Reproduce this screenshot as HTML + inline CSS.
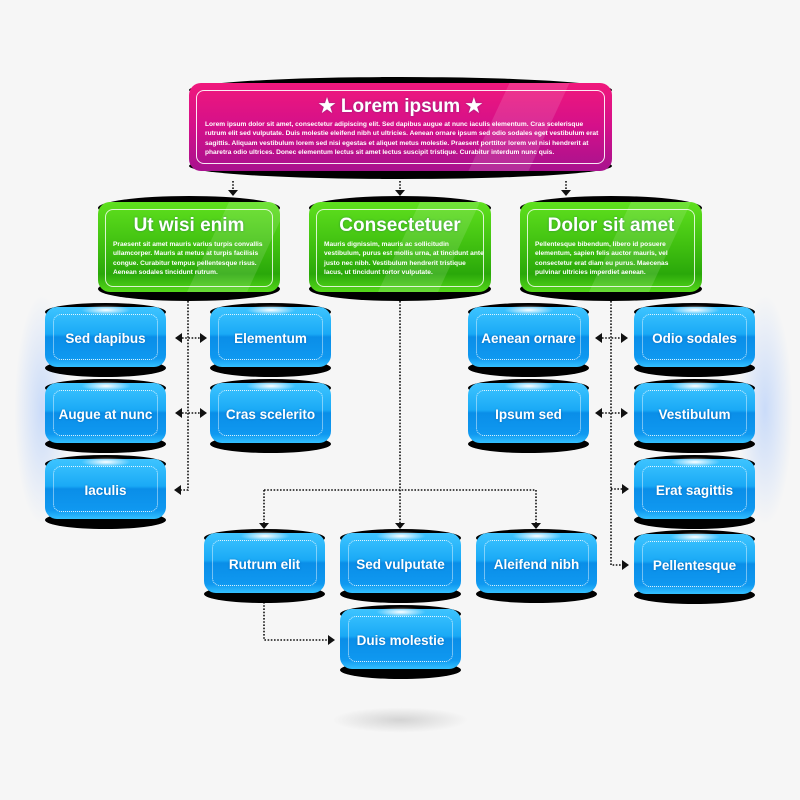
<!DOCTYPE html>
<html><head><meta charset="utf-8"><style>
body{margin:0;width:800px;height:800px;background:#f6f6f6;position:relative;overflow:hidden;font-family:"Liberation Sans",sans-serif}
.n{position:absolute}
.cap{position:absolute;left:0;right:0;background:#000;border-radius:50%}
.body{position:absolute;left:0;right:0;border-radius:12px;overflow:hidden}
.blue .body{background:linear-gradient(#3ec4ff 0%,#1aaaf6 45%,#0a8ee8 50%,#0f98f0 85%,#33c0ff 100%)}
.in{position:absolute;border:1px dotted rgba(255,255,255,.85);border-radius:8px}
.lbl{position:absolute;left:0;right:0;text-align:center;color:#fff;font-weight:bold;text-shadow:0 0 2px rgba(0,60,120,.4)}
.glow{position:absolute;left:50%;width:50px;height:10px;margin-left:-25px;background:radial-gradient(#fff,rgba(255,255,255,0) 70%)}
.green .body{background:linear-gradient(#5fe01e 0%,#3fbf10 50%,#2aa80a 80%,#55d81a 100%)}
.pink .body{background:linear-gradient(#f0187c 0%,#d4108a 50%,#a8128e 100%)}
.txt{position:absolute;color:#fff;font-size:6.6px;line-height:9.3px;font-weight:bold}
.shine{position:absolute;top:0;bottom:0;width:60px;background:rgba(255,255,255,.12);transform:skewX(-25deg)}
.halo{position:absolute;width:60px;height:250px;border-radius:50%;background:radial-gradient(ellipse at center,rgba(120,170,255,.35),rgba(246,246,246,0) 65%)}
</style></head><body>
<div class="halo" style="left:12px;top:285px"></div>
<div class="halo" style="left:735px;top:285px"></div>
<div class="n" style="left:320px;top:705px;width:160px;height:30px;background:radial-gradient(ellipse at center,rgba(170,170,170,.45),rgba(246,246,246,0) 60%)"></div>
<svg class="n" style="left:0;top:0" width="800" height="800">
<g stroke="#111" stroke-width="1.6" stroke-dasharray="1.6,1.6" fill="none">
<path d="M233 181V190M400 181V190M566 181V190"/>
<path d="M188 301V490H181"/>
<path d="M182 338H200M182 413H200"/>
<path d="M400 301V523M264 490H536M264 490V523M536 490V523"/>
<path d="M264 602V640H328"/>
<path d="M611 301V565H622M611 489H622M602 338H620M602 413H620"/>
</g>
<g fill="#111">
<path d="M228 190h10l-5 6zM395 190h10l-5 6zM561 190h10l-5 6z"/>
<path d="M174 490l7-5v10zM175 338l7-5v10zM175 413l7-5v10zM207 338l-7-5v10zM207 413l-7-5v10z"/>
<path d="M259 523h10l-5 6zM395 523h10l-5 6zM531 523h10l-5 6z"/>
<path d="M335 640l-7-5v10z"/>
<path d="M629 565l-7-5v10zM629 489l-7-5v10zM595 338l7-5v10zM595 413l7-5v10zM628 338l-7-5v10zM628 413l-7-5v10z"/>
</g></svg>

<div class="n pink" style="left:189px;top:77px;width:423px;height:102px">
<div class="cap" style="top:0;height:26px"></div><div class="cap" style="bottom:0;height:26px"></div>
<div class="body" style="top:6px;bottom:8px"><div class="shine" style="left:300px"></div></div>
<div class="in" style="left:7px;right:7px;top:13px;bottom:15px;border:1.5px solid rgba(255,255,255,.9)"></div>
<div class="lbl" style="top:18px;font-size:19px">★ Lorem ipsum ★</div>
<div class="txt" style="left:16px;top:43px;width:395px">Lorem ipsum dolor sit amet, consectetur adipiscing elit. Sed dapibus augue at nunc iaculis elementum. Cras scelerisque rutrum elit sed vulputate. Duis molestie eleifend nibh ut ultricies. Aenean ornare ipsum sed odio sodales eget vestibulum erat sagittis. Aliquam vestibulum lorem sed nisi egestas et aliquet metus molestie. Praesent porttitor lorem vel nisi hendrerit at pharetra odio ultrices. Donec elementum lectus sit amet lectus suscipit tristique. Curabitur interdum nunc quis.</div>
</div>

<div class="n green" style="left:98px;top:196px;width:182px;height:105px">
<div class="cap" style="top:0;height:24px"></div><div class="cap" style="bottom:0;height:24px"></div>
<div class="body" style="top:6px;bottom:9px"><div class="shine" style="left:110px"></div></div>
<div class="in" style="left:7px;right:7px;top:13px;bottom:14px;border:1.5px solid rgba(255,255,255,.8)"></div>
<div class="lbl" style="top:19px;font-size:19px">Ut wisi enim</div>
<div class="txt" style="left:15px;top:44px;width:160px">Praesent sit amet mauris varius turpis convallis ullamcorper. Mauris at metus at turpis facilisis congue. Curabitur tempus pellentesque risus. Aenean sodales tincidunt rutrum.</div>
</div>
<div class="n green" style="left:309px;top:196px;width:182px;height:105px">
<div class="cap" style="top:0;height:24px"></div><div class="cap" style="bottom:0;height:24px"></div>
<div class="body" style="top:6px;bottom:9px"><div class="shine" style="left:90px"></div></div>
<div class="in" style="left:7px;right:7px;top:13px;bottom:14px;border:1.5px solid rgba(255,255,255,.8)"></div>
<div class="lbl" style="top:19px;font-size:19px">Consectetuer</div>
<div class="txt" style="left:15px;top:44px;width:160px">Mauris dignissim, mauris ac sollicitudin vestibulum, purus est mollis urna, at tincidunt ante justo nec nibh. Vestibulum hendrerit tristique lacus, ut tincidunt tortor vulputate.</div>
</div>
<div class="n green" style="left:520px;top:196px;width:182px;height:105px">
<div class="cap" style="top:0;height:24px"></div><div class="cap" style="bottom:0;height:24px"></div>
<div class="body" style="top:6px;bottom:9px"><div class="shine" style="left:90px"></div></div>
<div class="in" style="left:7px;right:7px;top:13px;bottom:14px;border:1.5px solid rgba(255,255,255,.8)"></div>
<div class="lbl" style="top:19px;font-size:19px">Dolor sit amet</div>
<div class="txt" style="left:15px;top:44px;width:160px">Pellentesque bibendum, libero id posuere elementum, sapien felis auctor mauris, vel consectetur erat diam eu purus. Maecenas pulvinar ultricies imperdiet aenean.</div>
</div>

<div id="blues"></div>
<script>
var B=[["Sed dapibus",45,303],["Augue at nunc",45,379],["Iaculis",45,455],["Elementum",210,303],["Cras scelerito",210,379],
["Aenean ornare",468,303],["Ipsum sed",468,379],["Odio sodales",634,303],["Vestibulum",634,379],["Erat sagittis",634,455],["Pellentesque",634,530],
["Rutrum elit",204,529],["Sed vulputate",340,529],["Aleifend nibh",476,529],["Duis molestie",340,605]];
var h="";B.forEach(function(b){h+='<div class="n blue" style="left:'+b[1]+'px;top:'+b[2]+'px;width:121px;height:74px"><div class="cap" style="top:0;height:18px"></div><div class="cap" style="bottom:0;height:18px"></div><div class="body" style="top:4px;bottom:10px"></div><div class="glow" style="top:2px"></div><div class="in" style="left:8px;right:8px;top:11px;bottom:17px"></div><div class="lbl" style="top:28px;font-size:13.5px">'+b[0]+'</div></div>'});
document.getElementById("blues").innerHTML=h;
</script>
</body></html>
